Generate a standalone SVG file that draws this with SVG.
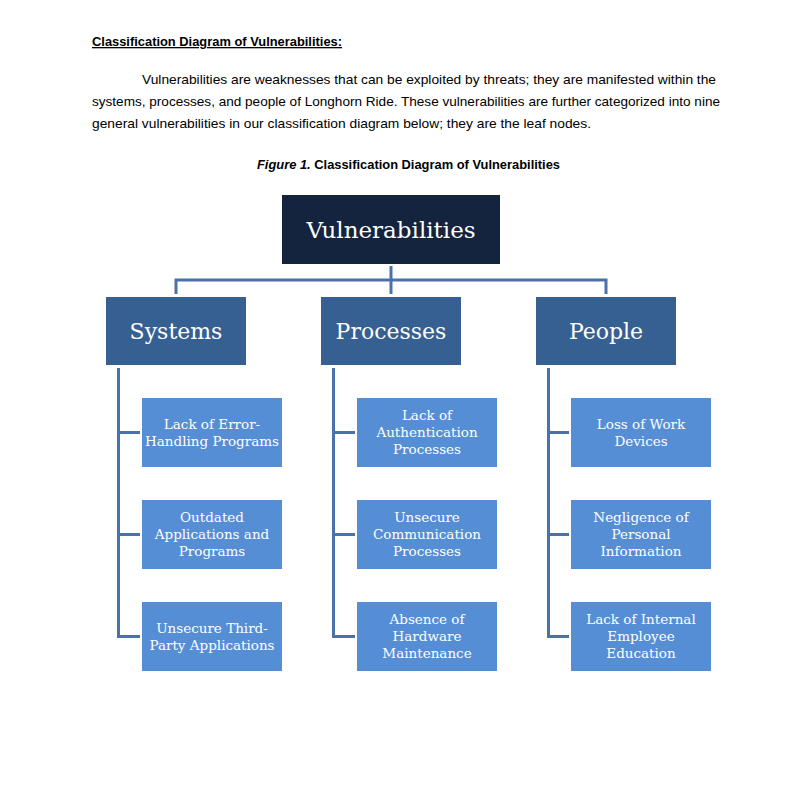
<svg xmlns="http://www.w3.org/2000/svg" width="810" height="794" viewBox="0 0 810 794">
<style>
.doc{font-family:"Liberation Sans",Arial,sans-serif;font-size:13px;fill:#000}
.b{font-weight:bold}
.root rect{fill:#14243f}
.cat rect{fill:#376092}
.leaf rect{fill:#558ed5}
.lbl{font-family:"DejaVu Serif","Liberation Serif",serif;fill:#fff;text-anchor:middle}
.root .lbl{font-size:23px}
.cat .lbl{font-size:22px}
.leaf .lbl{font-size:13.5px}
.conn{fill:none;stroke:#4a72aa;stroke-width:3}
</style>
<rect width="810" height="794" fill="#fff"/>
<g id="header">
<text class="doc b" x="92" y="46" textLength="250" lengthAdjust="spacingAndGlyphs" text-decoration="underline">Classification Diagram of Vulnerabilities:</text>
<text class="doc" x="142" y="84" textLength="574" lengthAdjust="spacingAndGlyphs">Vulnerabilities are weaknesses that can be exploited by threats; they are manifested within the</text>
<text class="doc" x="92" y="106" textLength="628" lengthAdjust="spacingAndGlyphs">systems, processes, and people of Longhorn Ride. These vulnerabilities are further categorized into nine</text>
<text class="doc" x="92" y="128" textLength="499" lengthAdjust="spacingAndGlyphs">general vulnerabilities in our classification diagram below; they are the leaf nodes.</text>
<text class="doc b" x="257" y="169" textLength="303" lengthAdjust="spacingAndGlyphs"><tspan font-style="italic">Figure 1.</tspan> Classification Diagram of Vulnerabilities</text>
</g>
<g id="connectors">
<path class="conn" d="M176,294V280H606V294M391,266V294"/>
<path class="conn" d="M118.5,368V636.5H140M118.5,432.5H140M118.5,534.5H140"/>
<path class="conn" d="M333.5,368V636.5H355M333.5,432.5H355M333.5,534.5H355"/>
<path class="conn" d="M548.5,368V636.5H569M548.5,432.5H569M548.5,534.5H569"/>
</g>
<g id="vulnerabilities" class="root"><rect x="282" y="195" width="218" height="69"/><text class="lbl" x="391" y="238">Vulnerabilities</text></g>
<g id="systems" class="cat"><rect x="106" y="297" width="140" height="68"/><text class="lbl" x="176" y="339">Systems</text></g>
<g id="processes" class="cat"><rect x="321" y="297" width="140" height="68"/><text class="lbl" x="391" y="339">Processes</text></g>
<g id="people" class="cat"><rect x="536" y="297" width="140" height="68"/><text class="lbl" x="606" y="339">People</text></g>
<g id="error-handling" class="leaf"><rect x="142" y="398" width="140" height="69"/><text class="lbl" x="212" y="429">Lack of Error-<tspan x="212" dy="17">Handling Programs</tspan></text></g>
<g id="outdated-apps" class="leaf"><rect x="142" y="500" width="140" height="69"/><text class="lbl" x="212" y="522">Outdated<tspan x="212" dy="17">Applications and</tspan><tspan x="212" dy="17">Programs</tspan></text></g>
<g id="third-party" class="leaf"><rect x="142" y="602" width="140" height="69"/><text class="lbl" x="212" y="633">Unsecure Third-<tspan x="212" dy="17">Party Applications</tspan></text></g>
<g id="authentication" class="leaf"><rect x="357" y="398" width="140" height="69"/><text class="lbl" x="427" y="420">Lack of<tspan x="427" dy="17">Authentication</tspan><tspan x="427" dy="17">Processes</tspan></text></g>
<g id="communication" class="leaf"><rect x="357" y="500" width="140" height="69"/><text class="lbl" x="427" y="522">Unsecure<tspan x="427" dy="17">Communication</tspan><tspan x="427" dy="17">Processes</tspan></text></g>
<g id="hardware" class="leaf"><rect x="357" y="602" width="140" height="69"/><text class="lbl" x="427" y="624">Absence of<tspan x="427" dy="17">Hardware</tspan><tspan x="427" dy="17">Maintenance</tspan></text></g>
<g id="work-devices" class="leaf"><rect x="571" y="398" width="140" height="69"/><text class="lbl" x="641" y="429">Loss of Work<tspan x="641" dy="17">Devices</tspan></text></g>
<g id="personal-info" class="leaf"><rect x="571" y="500" width="140" height="69"/><text class="lbl" x="641" y="522">Negligence of<tspan x="641" dy="17">Personal</tspan><tspan x="641" dy="17">Information</tspan></text></g>
<g id="employee-education" class="leaf"><rect x="571" y="602" width="140" height="69"/><text class="lbl" x="641" y="624">Lack of Internal<tspan x="641" dy="17">Employee</tspan><tspan x="641" dy="17">Education</tspan></text></g>
</svg>
